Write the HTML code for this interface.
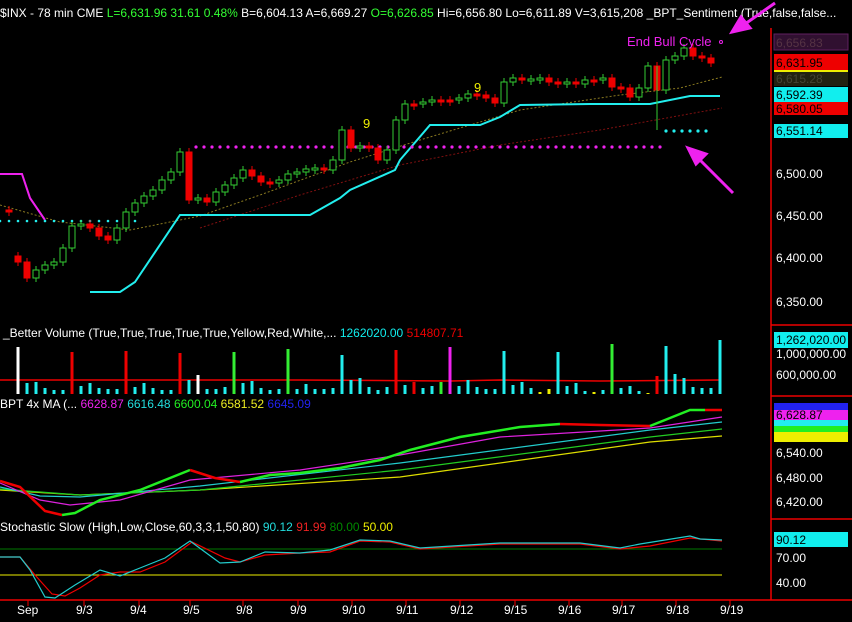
<!DOCTYPE html>
<html><head><meta charset="utf-8"><style>
html,body{margin:0;padding:0;background:#000;width:852px;height:622px;overflow:hidden}
svg{display:block;font-family:"Liberation Sans",sans-serif}
</style></head><body>
<svg id="s" width="852" height="622" xmlns="http://www.w3.org/2000/svg">
<rect width="852" height="622" fill="#000"/>
<text x="0" y="17" font-size="12" fill="#fff">$INX - 78 min  CME  <tspan fill="#3f3">L=6,631.96  31.61  0.48%</tspan>  B=6,604.13  A=6,669.27  <tspan fill="#3f3">O=6,626.85</tspan>  Hi=6,656.80  Lo=6,611.89  V=3,615,208  _BPT_Sentiment (True,false,false...</text>
<text x="3" y="337" font-size="12" fill="#fff">_Better Volume (True,True,True,True,True,Yellow,Red,White,...  <tspan fill="#1ee">1262020.00</tspan>  <tspan fill="#e00">514807.71</tspan></text>
<text x="0" y="408" font-size="12" fill="#fff">BPT 4x MA (...  <tspan fill="#e2e">6628.87</tspan>  <tspan fill="#2dd">6616.48</tspan>  <tspan fill="#2e2">6600.04</tspan>  <tspan fill="#ee2">6581.52</tspan>  <tspan fill="#22e">6645.09</tspan></text>
<text x="0" y="531" font-size="12" fill="#fff">Stochastic Slow (High,Low,Close,60,3,3,1,50,80)  <tspan fill="#2dd">90.12</tspan>  <tspan fill="#e22">91.99</tspan>  <tspan fill="#080">80.00</tspan>  <tspan fill="#ee0">50.00</tspan></text>
<g stroke="#e00" stroke-width="1.5"><line x1="771" y1="28" x2="771" y2="600"/><line x1="771" y1="325" x2="852" y2="325"/><line x1="771" y1="396" x2="852" y2="396"/><line x1="771" y1="519" x2="852" y2="519"/><line x1="0" y1="600" x2="852" y2="600"/></g>
<g id="g"></g>
<text x="627" y="46" font-size="13" fill="#e2e">End Bull Cycle</text>
<circle cx="721" cy="42" r="1.5" fill="none" stroke="#e2e"/>
<g stroke="#e2e" stroke-width="3" fill="#e2e"><line x1="775" y1="3" x2="745" y2="24"/><polygon points="732,32 741,17 750,28"/><line x1="733" y1="193" x2="700" y2="160"/><polygon points="688,148 706,154 696,164"/></g>
<g font-size="12" fill="#fff">
<text x="776" y="178">6,500.00</text><text x="776" y="220">6,450.00</text><text x="776" y="262">6,400.00</text><text x="776" y="306">6,350.00</text>
<text x="776" y="358">1,000,000.00</text><text x="776" y="379">600,000.00</text>
<text x="776" y="457">6,540.00</text><text x="776" y="482">6,480.00</text><text x="776" y="506">6,420.00</text>
<text x="776" y="562">70.00</text><text x="776" y="587">40.00</text>
<text x="17" y="614">Sep</text><text x="76" y="614">9/3</text><text x="130" y="614">9/4</text><text x="183" y="614">9/5</text><text x="236" y="614">9/8</text><text x="290" y="614">9/9</text><text x="342" y="614">9/10</text><text x="396" y="614">9/11</text><text x="450" y="614">9/12</text><text x="504" y="614">9/15</text><text x="558" y="614">9/16</text><text x="612" y="614">9/17</text><text x="666" y="614">9/18</text><text x="720" y="614">9/19</text>
</g>
<g font-size="12">
<rect x="774" y="34" width="74" height="16" fill="#301030" stroke="#602060"/><text x="776" y="47" fill="#534">6,656.83</text>
<rect x="774" y="54" width="74" height="16" fill="#e00"/><text x="776" y="67" fill="#000">6,631.95</text>
<rect x="774" y="71" width="74" height="15" fill="#221"/><rect x="774" y="70" width="74" height="2" fill="#ee0"/><text x="776" y="83" fill="#443">6,615.28</text>
<rect x="774" y="87" width="74" height="15" fill="#1ee"/><text x="776" y="99" fill="#000">6,592.39</text>
<rect x="774" y="102" width="74" height="13" fill="#e00"/><text x="776" y="113" fill="#000">6,580.05</text>
<rect x="774" y="124" width="74" height="14" fill="#1ee"/><text x="776" y="135" fill="#000">6,551.14</text>
<rect x="774" y="332" width="74" height="16" fill="#1ee"/><text x="776" y="344" fill="#000">1,262,020.00</text>
<rect x="774" y="403" width="74" height="8" fill="#22e"/><rect x="774" y="410" width="74" height="10" fill="#e2e"/><rect x="774" y="420" width="74" height="6" fill="#2ee"/><rect x="774" y="426" width="74" height="6" fill="#2e2"/><rect x="774" y="432" width="74" height="10" fill="#ee0"/><text x="776" y="419" fill="#000">6,628.87</text>
<rect x="774" y="532" width="74" height="15" fill="#1ee"/><text x="776" y="544" fill="#000">90.12</text>
</g>
<text x="363" y="128" font-size="13" fill="#ee0">9</text><text x="474" y="92" font-size="13" fill="#ee0">9</text>
</svg>
<script>
var g=document.getElementById('g'),h='';
function L(p,c,w,d){h+='<polyline fill="none" stroke="'+c+'" stroke-width="'+(w||1)+'"'+(d?' stroke-dasharray="'+d+'"':'')+' points="'+p+'"/>';}
L("0,205 60,222 130,230 200,216 260,195 350,162 420,140 520,110 620,95 680,88 722,77","#8a7a20",1,"2,2");
L("200,228 300,195 400,165 500,145 600,130 722,108","#801010",1,"2,2");
L("0,174 22,174 30,198 45,220","#e2e",2);
L("90,292 120,292 135,282 180,215 310,215 340,198 350,190 395,170 400,160 430,125 480,125 500,117 520,105 590,104 650,104 690,96 720,96","#2ee",2);
var i;for(i=0;i<=135;i+=9)h+='<circle cx="'+i+'" cy="221" r="1.3" fill="#2ee"/>';
for(i=196;i<=660;i+=8)h+='<circle cx="'+i+'" cy="147" r="1.6" fill="#e2e"/>';
for(i=666;i<=706;i+=8)h+='<circle cx="'+i+'" cy="131" r="1.6" fill="#2ee"/>';
var c=[210,212,262,278,270,265,262,248,226,224,228,236,240,228,212,203,196,190,180,172,152,200,198,202,192,185,178,170,176,182,183,180,174,172,169,168,170,160,130,148,146,148,160,150,120,104,104,102,100,100,100,98,94,95,98,103,82,78,80,79,78,82,84,82,84,80,80,78,87,88,97,88,66,90,60,56,48,56,58,63];
for(var k=1;k<c.length;k++){var x=9*k,o=c[k-1],cl=c[k];if(k==2)o=256;var up=cl<o,t=Math.min(o,cl),b=Math.max(o,cl);if(b-t<2)b=t+2;
var col=up?'#3c3':'#e00';h+='<line x1="'+x+'" y1="'+(t-4)+'" x2="'+x+'" y2="'+(b+4)+'" stroke="'+col+'"/>';
h+='<rect x="'+(x-3)+'" y="'+t+'" width="6" height="'+(b-t)+'" fill="'+(up?'#000':col)+'" stroke="'+col+'"/>';}
h+='<line x1="657" y1="66" x2="657" y2="130" stroke="#3c3"/>';
var v=[347,383,382,388,390,390,352,386,383,388,389,389,351,387,383,388,390,390,353,380,375,389,389,387,352,383,381,388,390,389,349,389,384,389,389,388,355,380,378,387,390,387,350,385,382,388,386,382,347,386,380,387,389,389,351,385,382,388,392,389,352,386,383,391,392,390,344,388,386,391,393,376,346,374,378,387,388,388,340];
var vc={0:'#fff',6:'#e00',12:'#e00',18:'#e00',20:'#fff',24:'#3e3',30:'#3e3',42:'#e00',44:'#e00',47:'#3e3',48:'#e2e',58:'#ee0',59:'#ee0',64:'#ee0',66:'#3e3',70:'#ee0',71:'#e00'};
L("0,380 300,380 450,381 500,380 600,381 720,380","#e00",1.5);
for(k=0;k<v.length;k++){var x=18+9*k;h+='<rect x="'+(x-1.5)+'" y="'+v[k]+'" width="3" height="'+(394-v[k])+'" fill="'+(vc[k]||'#2ee')+'"/>';}
L("0,490 80,495 200,490 400,477 650,442 722,436","#dd0",1.2);
L("0,489 80,495 200,490 400,470 650,437 722,429","#2c2",1.2);
L("0,487 40,496 80,497 200,486 400,463 650,430 722,422","#2cc",1.2);
L("0,483 40,500 70,505 120,500 190,480 300,470 400,455 500,437 650,428 722,417","#d2d",1.2);
L("0,481 20,487 45,511 62,515","#e00",2.5);L("62,515 75,513 100,500 140,490 190,470","#2e2",2.5);L("190,470 215,478 240,482","#e00",2.5);L("240,482 270,475 300,473 340,468 380,460 410,450 460,437 520,427 560,424","#2e2",2.5);L("560,424 600,425 650,426","#e00",2.5);L("650,426 690,410 705,410","#2e2",2.5);L("705,410 722,410","#e00",2.5);
L("0,549 722,549","#070",1);L("0,575 722,575","#ee0",1);
L("0,557 20,557 35,575 52,594 65,596 80,588 100,575 120,572 140,572 165,562 192,542 225,558 240,562 265,555 300,553 330,552 360,541 390,542 420,549 500,544 580,544 620,549 650,546 690,538 722,541","#e00",1.2);
L("0,557 20,557 30,570 45,597 55,598 75,585 100,570 120,576 140,568 165,558 190,541 220,563 240,562 265,552 300,553 330,550 360,540 390,541 420,548 500,543 580,543 620,548 640,544 690,536 700,539 722,540","#2cc",1.2);
var d=[28,84,139,190,243,298,352,406,460,515,569,622,676,730];d.forEach(function(x){h+='<line x1="'+x+'" y1="600" x2="'+x+'" y2="606" stroke="#e00"/>';});
g.innerHTML=h;
</script>
</body></html>
